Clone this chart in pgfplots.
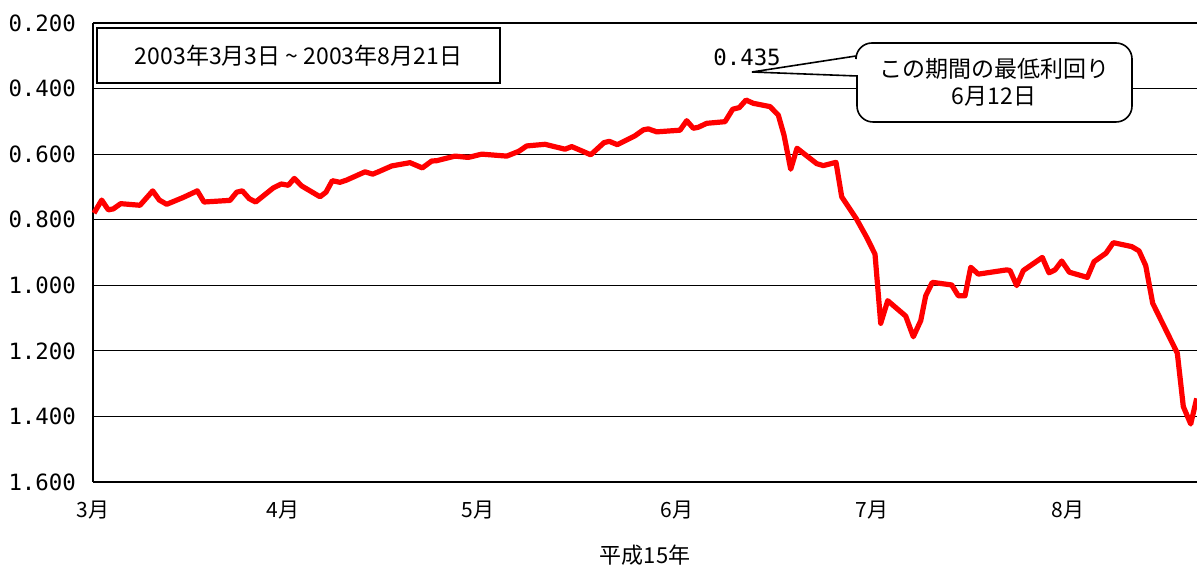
\documentclass[border=0pt]{standalone}
\usepackage{pgfplots}
\pgfplotsset{compat=1.18}
\usepackage{pgfplotstable}
\usepackage{fontspec}
\setmainfont{Noto Sans CJK JP}
\newfontfamily\monofont{DejaVu Sans Mono}
\pgfplotstableread{
x y
1 0.780
8.7 0.740
15.3 0.770
20.3 0.767
27.7 0.751
47 0.756
59.7 0.712
66.3 0.740
73.7 0.753
90.3 0.732
104.3 0.712
111 0.746
137 0.741
143.7 0.716
149.3 0.712
156.3 0.736
162.7 0.746
180.3 0.703
188.3 0.691
195.3 0.695
201.3 0.674
208.7 0.697
227 0.730
233 0.716
239.3 0.681
247 0.686
253.7 0.679
272 0.654
279.7 0.661
285.3 0.654
298.7 0.636
317 0.626
329.3 0.642
338.7 0.621
343.7 0.620
362 0.606
375.3 0.610
388.7 0.600
413.7 0.606
422 0.596
426 0.591
433.7 0.575
452 0.570
472 0.585
478.7 0.577
488.7 0.590
497.7 0.602
511 0.565
516.3 0.561
524.3 0.571
542 0.544
550.3 0.526
555.3 0.523
563.7 0.532
587 0.527
593.7 0.498
600.3 0.521
605.3 0.518
613.7 0.506
632 0.501
639.7 0.463
646.3 0.458
653 0.435
660.3 0.445
677 0.455
685.3 0.481
691 0.542
697.7 0.646
704 0.582
723.7 0.629
730.3 0.635
743 0.625
748.7 0.730
763.7 0.799
773.7 0.854
782 0.905
787.7 1.116
794.7 1.047
812.7 1.094
820.3 1.157
827.7 1.108
832.7 1.032
839.3 0.991
858.7 0.999
865.3 1.032
872 1.032
877.7 0.945
885.3 0.966
913.7 0.953
917 0.955
923.7 1.001
930.3 0.955
949.3 0.915
956 0.962
962 0.953
968.7 0.926
976.3 0.960
994.3 0.976
1001 0.928
1013 0.902
1020.3 0.870
1038.7 0.882
1046 0.895
1052.7 0.940
1059.7 1.055
1084.3 1.207
1090.3 1.370
1097.7 1.423
1103.7 1.345
}\yields
\begin{document}
\begin{tikzpicture}
\useasboundingbox (-46.5pt,-41.5pt) rectangle (552pt,241pt);
\begin{axis}[
  at={(0,0)}, anchor=south west,
  scale only axis, width=552pt, height=229.5pt,
  xmin=0, xmax=1104, ymin=0.2, ymax=1.6,
  y dir=reverse,
  axis lines=left, axis line style={black, line width=0.8pt, -},
  xtick={0,190,385,584,779,975},
  xticklabels={3月,4月,5月,6月,7月,8月},
  ytick={0.2,0.4,0.6,0.8,1.0,1.2,1.4,1.6},
  yticklabels={0.200,0.400,0.600,0.800,1.000,1.200,1.400,1.600},
  yticklabel style={font=\monofont\fontsize{11.2}{13}\selectfont, xshift=-5pt},
  xticklabel style={font=\fontsize{10.5}{12}\selectfont, yshift=-6pt},
  major tick length=0pt,
  ymajorgrids, grid style={black, line width=0.6pt},
  xlabel={平成15年}, xlabel style={font=\fontsize{11}{13}\selectfont, yshift=-6pt},
  clip=false,
]
\addplot[red, line width=2.6pt, line join=round] table[x=x,y=y] {\yields};
\end{axis}
\begin{scope}[shift={(-46.5pt,241pt)}, x=0.5pt, y=-0.5pt]
  \draw[line width=1.3pt] (97,28) rectangle (500,83);
  \node[font=\fontsize{11.5}{13}\selectfont] at (298.5,55.5) {2003年3月3日 \textasciitilde{} 2003年8月21日};
  \node[font=\monofont\fontsize{11.2}{13}\selectfont] at (747,57) {0.435};
  \draw[line width=0.8pt, fill=white] (752,72) -- (856,56) [rounded corners=8pt] -- (856,43) -- (1132,43) -- (1132,122) -- (857,122) [sharp corners] -- (857,76) -- cycle;
  \node[font=\fontsize{11.5}{13.5}\selectfont, align=center] at (994,82) {この期間の最低利回り\\6月12日};
\end{scope}
\end{tikzpicture}
\end{document}
